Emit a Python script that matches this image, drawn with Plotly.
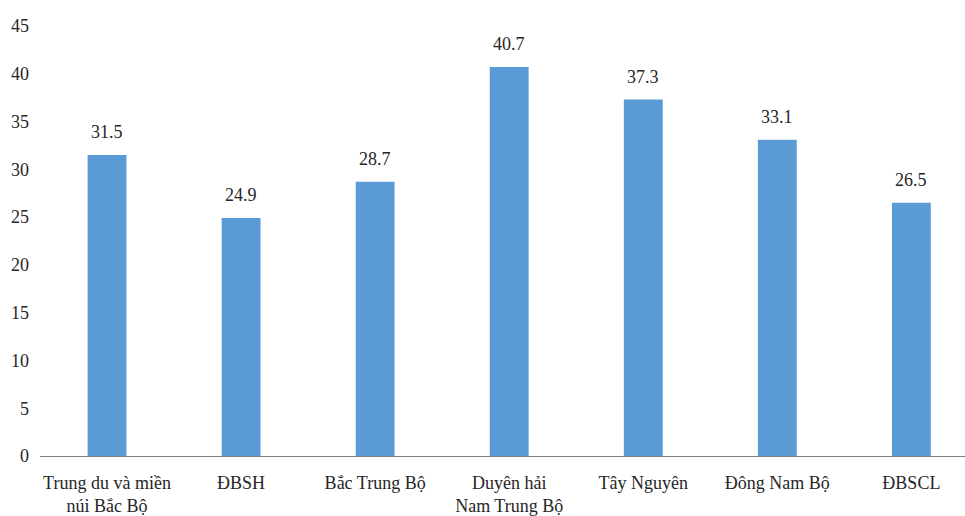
import plotly.graph_objects as go

categories = ["Trung du và miền<br>núi Bắc Bộ", "ĐBSH", "Bắc Trung Bộ", "Duyên hải<br>Nam Trung Bộ",
              "Tây Nguyên", "Đông Nam Bộ", "ĐBSCL"]
values = [31.5, 24.9, 28.7, 40.7, 37.3, 33.1, 26.5]
y_ticks = [0, 5, 10, 15, 20, 25, 30, 35, 40, 45]

font = dict(family="Liberation Serif, Times New Roman, serif", size=18, color="#262626")

fig = go.Figure()
fig.add_trace(go.Bar(x=list(range(len(categories))), y=values, width=0.29,
                     marker=dict(color="#5B9BD5", line=dict(width=0))))

for i, v in enumerate(values):
    fig.add_annotation(x=i, y=v, text=f"{v:.1f}", showarrow=False, yanchor="bottom",
                       yshift=11, font=font)

fig.update_layout(
    width=965, height=516,
    margin=dict(l=40, r=0, t=26, b=60),
    plot_bgcolor="white", paper_bgcolor="white",
    font=font, showlegend=False,
    xaxis=dict(tickmode="array", tickvals=list(range(len(categories))), ticktext=categories,
               range=[-0.5, 6.4], showgrid=False, showline=True, linecolor="#7f7f7f",
               linewidth=1, ticks="", zeroline=False, tickfont=font, fixedrange=True,
               ticklabelstandoff=10),
    yaxis=dict(range=[0, 45], tickvals=y_ticks, showgrid=False, showline=False,
               zeroline=False, ticks="", tickfont=font, ticklabelstandoff=10),
)

fig.write_html("out.html")
